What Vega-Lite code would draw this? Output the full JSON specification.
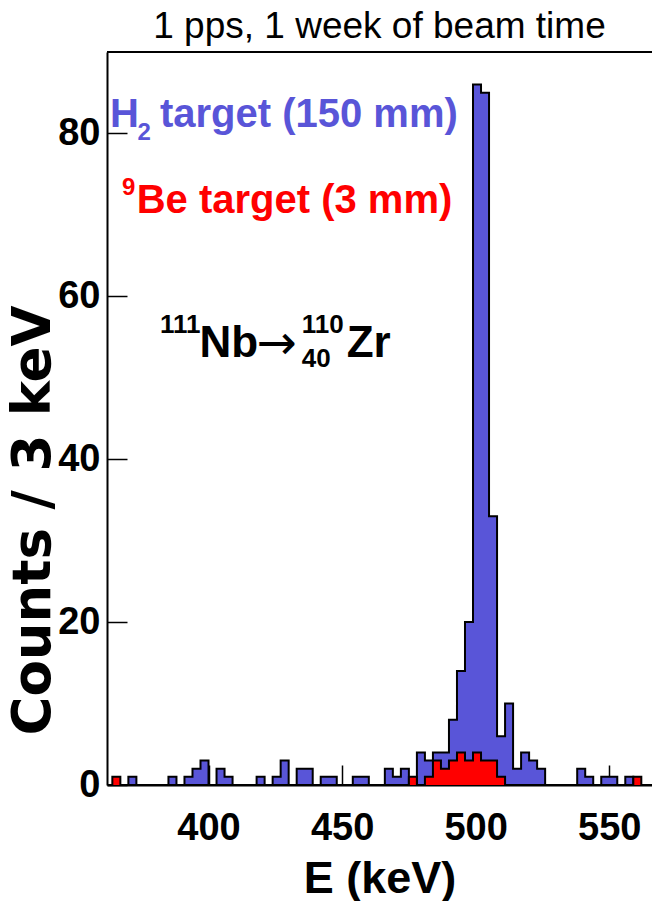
{
  "$schema": "https://vega.github.io/schema/vega-lite/v6.json",
  "width": 545,
  "height": 733,
  "autosize": {"type": "none"},
  "padding": {"left": 107, "top": 52, "right": 0, "bottom": 116},
  "background": "white",
  "view": {"stroke": null},
  "config": {"font": "Liberation Sans"},
  "title": {
    "text": "1 pps, 1 week of beam time",
    "fontSize": 37,
    "fontWeight": "normal",
    "font": "Liberation Sans",
    "color": "black",
    "anchor": "middle",
    "frame": "group",
    "baseline": "bottom",
    "offset": 7,
    "dy": 39
  },
  "datasets": {
    "hist": [
      {"E": 361, "H2": 0, "Be": 0},
      {"E": 364, "H2": 0, "Be": 1},
      {"E": 367, "H2": 0, "Be": 0},
      {"E": 370, "H2": 1, "Be": 0},
      {"E": 373, "H2": 0, "Be": 0},
      {"E": 376, "H2": 0, "Be": 0},
      {"E": 379, "H2": 0, "Be": 0},
      {"E": 382, "H2": 0, "Be": 0},
      {"E": 385, "H2": 1, "Be": 0},
      {"E": 388, "H2": 0, "Be": 0},
      {"E": 391, "H2": 1, "Be": 0},
      {"E": 394, "H2": 2, "Be": 0},
      {"E": 397, "H2": 3, "Be": 0},
      {"E": 400, "H2": 0, "Be": 0},
      {"E": 403, "H2": 2, "Be": 0},
      {"E": 406, "H2": 1, "Be": 0},
      {"E": 409, "H2": 0, "Be": 0},
      {"E": 412, "H2": 0, "Be": 0},
      {"E": 415, "H2": 0, "Be": 0},
      {"E": 418, "H2": 1, "Be": 0},
      {"E": 421, "H2": 0, "Be": 0},
      {"E": 424, "H2": 1, "Be": 0},
      {"E": 427, "H2": 3, "Be": 0},
      {"E": 430, "H2": 0, "Be": 0},
      {"E": 433, "H2": 2, "Be": 0},
      {"E": 436, "H2": 2, "Be": 0},
      {"E": 439, "H2": 0, "Be": 0},
      {"E": 442, "H2": 1, "Be": 0},
      {"E": 445, "H2": 1, "Be": 0},
      {"E": 448, "H2": 0, "Be": 0},
      {"E": 451, "H2": 0, "Be": 0},
      {"E": 454, "H2": 1, "Be": 0},
      {"E": 457, "H2": 1, "Be": 0},
      {"E": 460, "H2": 0, "Be": 0},
      {"E": 463, "H2": 0, "Be": 0},
      {"E": 466, "H2": 2, "Be": 0},
      {"E": 469, "H2": 1, "Be": 0},
      {"E": 472, "H2": 2, "Be": 0},
      {"E": 475, "H2": 0, "Be": 1},
      {"E": 478, "H2": 4, "Be": 0},
      {"E": 481, "H2": 3, "Be": 1},
      {"E": 484, "H2": 4, "Be": 3},
      {"E": 487, "H2": 4, "Be": 2},
      {"E": 490, "H2": 8, "Be": 3},
      {"E": 493, "H2": 14, "Be": 4},
      {"E": 496, "H2": 20, "Be": 3},
      {"E": 499, "H2": 86, "Be": 4},
      {"E": 502, "H2": 85, "Be": 3},
      {"E": 505, "H2": 33, "Be": 3},
      {"E": 508, "H2": 6, "Be": 1},
      {"E": 511, "H2": 10, "Be": 0},
      {"E": 514, "H2": 2, "Be": 0},
      {"E": 517, "H2": 4, "Be": 0},
      {"E": 520, "H2": 3, "Be": 0},
      {"E": 523, "H2": 2, "Be": 0},
      {"E": 526, "H2": 0, "Be": 0},
      {"E": 529, "H2": 0, "Be": 0},
      {"E": 532, "H2": 0, "Be": 0},
      {"E": 535, "H2": 0, "Be": 0},
      {"E": 538, "H2": 2, "Be": 0},
      {"E": 541, "H2": 1, "Be": 0},
      {"E": 544, "H2": 0, "Be": 0},
      {"E": 547, "H2": 1, "Be": 0},
      {"E": 550, "H2": 1, "Be": 0},
      {"E": 553, "H2": 0, "Be": 0},
      {"E": 556, "H2": 1, "Be": 0},
      {"E": 559, "H2": 0, "Be": 1},
      {"E": 562, "H2": 0, "Be": 0},
      {"E": 565, "H2": 0, "Be": 0},
      {"E": 568, "H2": 0, "Be": 0}
    ]
  },
  "layer": [
    {
      "data": {"name": "hist"},
      "mark": {"type": "area", "interpolate": "step-after", "color": "#5955d8", "clip": true},
      "encoding": {
        "x": {
          "field": "E",
          "type": "quantitative",
          "scale": {"domain": [362, 566], "nice": false, "zero": false},
          "axis": {
            "values": [400, 450, 500, 550],
            "title": "E (keV)",
            "titleFont": "Liberation Sans",
            "titleFontSize": 45,
            "titleFontWeight": "bold",
            "titleColor": "black",
            "titleBaseline": "alphabetic",
            "titleY": 107,
            "labelFont": "Liberation Sans",
            "labelFontSize": 38,
            "labelFontWeight": "bold",
            "labelColor": "black",
            "labelFlush": false,
            "labelBaseline": "top",
            "labelPadding": 44,
            "domainColor": "black",
            "domainWidth": 2,
            "tickColor": "black",
            "tickWidth": 1.5,
            "tickSize": -20,
            "grid": false
          }
        },
        "y": {
          "field": "H2",
          "type": "quantitative",
          "scale": {"domain": [0, 90], "nice": false},
          "axis": {
            "values": [0, 20, 40, 60, 80],
            "title": "Counts / 3 keV",
            "titleFont": "DejaVu Sans",
            "titleFontSize": 53,
            "titleFontWeight": "bold",
            "titleColor": "black",
            "titleAngle": -90,
            "titleAlign": "center",
            "titleBaseline": "alphabetic",
            "titleX": -58,
            "titleY": 468,
            "labelFont": "Liberation Sans",
            "labelFontSize": 38,
            "labelFontWeight": "bold",
            "labelColor": "black",
            "labelFlush": false,
            "labelPadding": 27,
            "domainColor": "black",
            "domainWidth": 2,
            "tickColor": "black",
            "tickWidth": 1.5,
            "tickSize": -20,
            "grid": false
          }
        }
      }
    },
    {
      "data": {"name": "hist"},
      "mark": {"type": "line", "interpolate": "step-after", "color": "black", "strokeWidth": 2, "clip": true},
      "encoding": {
        "x": {"field": "E", "type": "quantitative"},
        "y": {"field": "H2", "type": "quantitative"}
      }
    },
    {
      "data": {"name": "hist"},
      "mark": {"type": "area", "interpolate": "step-after", "color": "#ff0000", "clip": true},
      "encoding": {
        "x": {"field": "E", "type": "quantitative"},
        "y": {"field": "Be", "type": "quantitative"}
      }
    },
    {
      "data": {"name": "hist"},
      "mark": {"type": "line", "interpolate": "step-after", "color": "black", "strokeWidth": 2, "clip": true},
      "encoding": {
        "x": {"field": "E", "type": "quantitative"},
        "y": {"field": "Be", "type": "quantitative"}
      }
    },
    {
      "data": {"values": [{}]},
      "mark": {"type": "rule", "color": "black", "strokeWidth": 2},
      "encoding": {"y": {"datum": 90}}
    },
    {
      "data": {"values": [{"E": 363.1, "n": 80.8, "label": "H"}, {"E": 381.8, "n": 80.8, "label": "target (150 mm)"}]},
      "mark": {"type": "text", "align": "left", "baseline": "alphabetic", "fontSize": 40, "fontWeight": "bold", "color": "#5955d8", "font": "Liberation Sans"},
      "encoding": {
        "x": {"field": "E", "type": "quantitative"},
        "y": {"field": "n", "type": "quantitative"},
        "text": {"field": "label"}
      }
    },
    {
      "data": {"values": [{"E": 373.4, "n": 79.2, "label": "2"}]},
      "mark": {"type": "text", "align": "left", "baseline": "alphabetic", "fontSize": 24, "fontWeight": "bold", "color": "#5955d8", "font": "Liberation Sans"},
      "encoding": {
        "x": {"field": "E", "type": "quantitative"},
        "y": {"field": "n", "type": "quantitative"},
        "text": {"field": "label"}
      }
    },
    {
      "data": {"values": [{"E": 367.6, "n": 72.4, "label": "9"}]},
      "mark": {"type": "text", "align": "left", "baseline": "alphabetic", "fontSize": 24, "fontWeight": "bold", "color": "#ff0000", "font": "Liberation Sans"},
      "encoding": {
        "x": {"field": "E", "type": "quantitative"},
        "y": {"field": "n", "type": "quantitative"},
        "text": {"field": "label"}
      }
    },
    {
      "data": {"values": [{"E": 373.1, "n": 70.2, "label": "Be target (3 mm)"}]},
      "mark": {"type": "text", "align": "left", "baseline": "alphabetic", "fontSize": 40, "fontWeight": "bold", "color": "#ff0000", "font": "Liberation Sans"},
      "encoding": {
        "x": {"field": "E", "type": "quantitative"},
        "y": {"field": "n", "type": "quantitative"},
        "text": {"field": "label"}
      }
    },
    {
      "data": {"values": [{"E": 381.8, "n": 55.5, "label": "111"}, {"E": 434.9, "n": 55.5, "label": "110"}, {"E": 434.9, "n": 51.3, "label": "40"}]},
      "mark": {"type": "text", "align": "left", "baseline": "alphabetic", "fontSize": 26, "fontWeight": "bold", "color": "black", "font": "Liberation Sans"},
      "encoding": {
        "x": {"field": "E", "type": "quantitative"},
        "y": {"field": "n", "type": "quantitative"},
        "text": {"field": "label"}
      }
    },
    {
      "data": {"values": [{"E": 396.6, "n": 52.5, "label": "Nb"}, {"E": 451.7, "n": 52.5, "label": "Zr"}]},
      "mark": {"type": "text", "align": "left", "baseline": "alphabetic", "fontSize": 44, "fontWeight": "bold", "color": "black", "font": "Liberation Sans"},
      "encoding": {
        "x": {"field": "E", "type": "quantitative"},
        "y": {"field": "n", "type": "quantitative"},
        "text": {"field": "label"}
      }
    },
    {
      "data": {"values": [{"E": 418.0, "n": 52.3, "label": "→"}]},
      "mark": {"type": "text", "align": "left", "baseline": "alphabetic", "fontSize": 48, "fontWeight": "normal", "color": "black", "font": "DejaVu Sans"},
      "encoding": {
        "x": {"field": "E", "type": "quantitative"},
        "y": {"field": "n", "type": "quantitative"},
        "text": {"field": "label"}
      }
    }
  ]
}
